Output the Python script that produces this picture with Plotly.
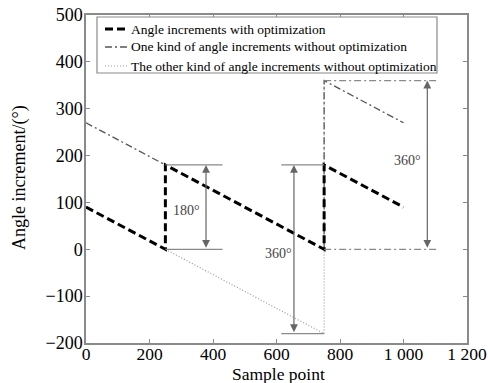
import plotly.graph_objects as go

# Data (visible segments of each series)
opt_x = [0, 250, 250, 750, 750, 1000]
opt_y = [90, 0, 180, 0, 180, 90]
one_x = [0, 250, None, 750, 750, 1000]
one_y = [270, 180, None, 0, 360, 270]
other_x = [250, 750, 750]
other_y = [0, -180, 360]

x_ticks = [0, 200, 400, 600, 800, 1000, 1200]
x_labels = ["0", "200", "400", "600", "800", "1 000", "1 200"]
y_ticks = [-200, -100, 0, 100, 200, 300, 400, 500]
y_labels = ["\u2212200", "\u2212100", "0", "100", "200", "300", "400", "500"]

names = ["Angle increments with optimization",
         "One kind of angle increments without optimization",
         "The other kind of angle increments without optimization"]
x_title = "Sample point"
y_title = "Angle increment/(\u00b0)"

FONT = "Liberation Serif, Times New Roman, serif"
GRAY = "#8a8a8a"

styles = [dict(color="black", width=3, dash="8px,4px"),
          dict(color="#555555", width=1.3, dash="7px,3px,2px,3px"),
          dict(color="#9a9a9a", width=1.2, dash="1px,2px")]

fig = go.Figure()
fig.add_trace(go.Scatter(x=other_x, y=other_y, mode="lines", name=names[2],
                         line=styles[2], showlegend=False))
fig.add_trace(go.Scatter(x=one_x, y=one_y, mode="lines", name=names[1],
                         line=styles[1], showlegend=False))
fig.add_trace(go.Scatter(x=opt_x, y=opt_y, mode="lines", name=names[0],
                         line=styles[0], showlegend=False))

shapes = []
annotations = []

def hline(x0, x1, y, dash="solid"):
    shapes.append(dict(type="line", xref="x", yref="y", x0=x0, x1=x1, y0=y, y1=y,
                       line=dict(color=GRAY, width=1.3, dash=dash)))
hline(250, 430, 180)
hline(250, 430, 0)
hline(615, 750, 180)
hline(615, 750, -180)
hline(750, 1110, 360, "7px,3px,2px,3px")
hline(750, 1110, 0, "7px,3px,2px,3px")

def darrow(x, y0, y1):
    annotations.append(dict(x=x, y=y1, ax=x, ay=y0, xref="x", yref="y", axref="x", ayref="y",
                            text="", showarrow=True, arrowhead=2, arrowsize=1.3,
                            arrowwidth=1.2, arrowcolor="#666666", arrowside="end+start"))
darrow(378, 0, 180)
darrow(655, -180, 180)
darrow(1075, 0, 360)

def label(x, y, t):
    annotations.append(dict(x=x, y=y, xref="x", yref="y", text=t, showarrow=False,
                            font=dict(family=FONT, size=14, color="#444444")))
label(318, 83, "180\u00b0")
label(605, -8, "360\u00b0")
label(1012, 190, "360\u00b0")

# pixel -> paper helpers
L, R, T, B = 86, 467, 15, 343
def px(x):
    return (x - L) / (R - L)
def py(y):
    return (B - y) / (B - T)

# manual legend
shapes.append(dict(type="rect", xref="paper", yref="paper",
                   x0=px(97), x1=px(437), y0=py(73), y1=py(17),
                   line=dict(color=GRAY, width=1.2), fillcolor="white", layer="above"))
rows = [29, 47, 66]
for i in range(3):
    st = styles[i]
    shapes.append(dict(type="line", xref="paper", yref="paper",
                       x0=px(105), x1=px(129), y0=py(rows[i]), y1=py(rows[i]),
                       line=dict(color=st["color"], width=st["width"], dash=st["dash"]),
                       layer="above"))
    annotations.append(dict(x=px(129), y=py(rows[i]), xref="paper", yref="paper",
                            xanchor="left", yanchor="middle", text=names[i], showarrow=False,
                            font=dict(family=FONT, size=13.5, color="black")))

# axis titles
annotations.append(dict(x=px(278), y=py(374), xref="paper", yref="paper", text=x_title,
                        showarrow=False, xanchor="center", yanchor="middle",
                        font=dict(family=FONT, size=17.5, color="black")))
annotations.append(dict(x=px(19), y=py(178), xref="paper", yref="paper", text=y_title,
                        showarrow=False, xanchor="center", yanchor="middle", textangle=-90,
                        font=dict(family=FONT, size=18, color="black")))

fig.update_layout(
    width=488, height=383,
    margin=dict(l=L, r=488 - R, t=T, b=383 - B),
    plot_bgcolor="white", paper_bgcolor="white",
    font=dict(family=FONT, size=18, color="black"),
    shapes=shapes, annotations=annotations,
    showlegend=False,
)
fig.update_xaxes(range=[0, 1200], tickvals=x_ticks, ticktext=x_labels, automargin=False,
                 showgrid=False, zeroline=False, showline=True, linecolor=GRAY,
                 linewidth=1.5, mirror="ticks", ticks="inside", ticklen=4, tickcolor=GRAY,
                 tickfont=dict(size=17.5), ticklabelstandoff=-6)
fig.update_yaxes(range=[-200, 500], tickvals=y_ticks, ticktext=y_labels, automargin=False,
                 showgrid=False, zeroline=False, showline=True, linecolor=GRAY,
                 linewidth=1.5, mirror="ticks", ticks="inside", ticklen=4, tickcolor=GRAY,
                 tickfont=dict(size=18), ticklabelstandoff=-2)

fig.write_html("out.html", config={"displayModeBar": False},
               post_script="document.body.style.margin='0';")
